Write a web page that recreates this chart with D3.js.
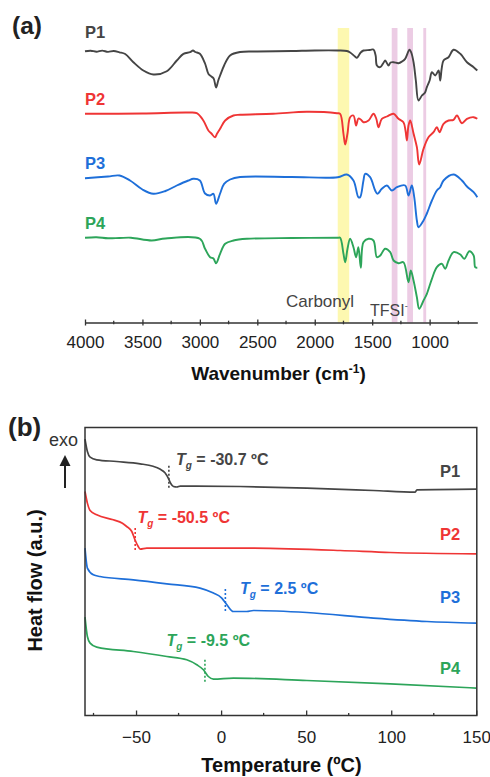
<!DOCTYPE html>
<html>
<head>
<meta charset="utf-8">
<script src="https://cdn.jsdelivr.net/npm/d3@7"></script>
<style>
  html, body { margin: 0; padding: 0; background: #fff; }
  svg { display: block; font-family: "Liberation Sans", Arial, sans-serif; }
</style>
</head>
<body>
<div id="chart"></div>
<script>
// ── Data ──────────────────────────────────────────────────────────────────
const SERIES = ['P1', 'P2', 'P3', 'P4'];
const COLORS = ['#454545', '#ef3535', '#1e6fd9', '#2da55a'];

// FTIR spectra (a): [wavenumber cm-1, transmittance a.u., stacked]
const ftirP1 = [
  [4000, 271.3], [3950, 271.8], [3900, 270.8], [3850, 271.9], [3800, 270.6], [3750, 271.5], [3700, 270.2],
  [3650, 268.5], [3579, 260.3], [3492, 252], [3405, 248], [3288, 251.3], [3201, 262], [3143, 268.7],
  [3085, 270.3], [3060, 272], [3040, 270.5], [3000, 268.7], [2955, 259], [2925, 248.5], [2900, 246],
  [2880, 244], [2859, 235], [2840, 242], [2824, 247], [2789, 257], [2737, 267], [2650, 270.5],
  [2500, 271], [2200, 271.5], [2000, 272], [1800, 272], [1720, 271.5], [1692, 270], [1650, 266],
  [1633, 264.7], [1600, 270], [1576, 272], [1520, 272.5], [1489, 273], [1470, 267], [1459, 257],
  [1430, 255.3], [1400, 260], [1387, 262], [1358, 257], [1340, 260], [1314, 260.3], [1271, 259.3],
  [1240, 261], [1213, 263.7], [1175, 272.7], [1160, 270], [1140, 260.3], [1120, 242], [1097, 222],
  [1067, 227], [1040, 230], [1024, 235.3], [1000, 242], [980, 250.3], [951, 247], [922, 252],
  [908, 242], [895, 254], [879, 262], [835, 265.3], [792, 272.7], [733, 268.7], [675, 260.3],
  [617, 255.3], [585, 252]
];
const ftirP2 = [
  [4000, 208.7], [3500, 209], [3100, 210], [3027, 209.3], [2970, 202], [2926, 192], [2900, 189],
  [2868, 185.3], [2850, 189], [2824, 193.7], [2780, 202], [2708, 207], [2650, 207.7], [2362, 208.7],
  [2069, 210.7], [1807, 209.3], [1779, 208.7], [1750, 188.7], [1735, 178], [1715, 189], [1692, 205.3],
  [1663, 207], [1640, 197], [1620, 204], [1600, 203], [1576, 200.3], [1532, 202], [1489, 208.7],
  [1465, 204], [1445, 195.3], [1416, 203.7], [1372, 206], [1314, 208.7], [1271, 203.7], [1228, 200.3],
  [1210, 192], [1198, 182], [1184, 197], [1169, 202], [1140, 189], [1111, 175.3], [1091, 158],
  [1053, 173.7], [1010, 185.3], [966, 190.3], [937, 195.3], [914, 190.3], [879, 198.7], [835, 202],
  [792, 202.7], [762, 207], [719, 199.3], [675, 203.7], [617, 205.3], [585, 203.7]
];
const ftirP3 = [
  [4000, 144.3], [3800, 146], [3700, 147], [3608, 142], [3500, 133], [3405, 128.7], [3300, 131.5],
  [3201, 137], [3100, 142], [3057, 143.7], [3000, 142], [2955, 129], [2911, 127], [2882, 128.7],
  [2859, 118.7], [2824, 129], [2789, 138.7], [2737, 143], [2650, 145.5], [2200, 145.5], [1800, 145.3],
  [1721, 148], [1663, 142], [1620, 125.3], [1605, 125.3], [1576, 142], [1561, 148.7], [1518, 145.3],
  [1474, 132], [1454, 128.7], [1416, 133.7], [1372, 137], [1329, 132], [1285, 135.3], [1213, 137],
  [1184, 127], [1155, 137], [1134, 125.3], [1111, 102], [1097, 95.3], [1053, 102], [1024, 109],
  [980, 122], [937, 132], [908, 135.3], [879, 142], [792, 148], [719, 142], [675, 136], [617, 130.3],
  [585, 125.3]
];
const ftirP4 = [
  [4000, 84.7], [3900, 85.3], [3800, 84.2], [3700, 84.5], [3600, 84.8], [3420, 82], [3300, 84],
  [3000, 83.7], [2955, 73.7], [2911, 65.3], [2882, 64], [2859, 59.3], [2824, 68.7], [2780, 78.7],
  [2708, 82], [2591, 83.7], [2200, 84.5], [1800, 84.7], [1779, 84.7], [1750, 68.7], [1735, 60.3],
  [1715, 73.7], [1692, 83.7], [1663, 75.3], [1640, 65.3], [1620, 75.3], [1599, 54.7], [1576, 80.3],
  [1532, 83.7], [1489, 82], [1459, 65.3], [1430, 67], [1387, 73.7], [1343, 70.3], [1314, 62],
  [1271, 59.3], [1228, 60.3], [1184, 40.3], [1164, 52], [1140, 42], [1111, 25.3], [1091, 13.7],
  [1053, 22], [1024, 28.7], [980, 43.7], [937, 55.3], [894, 58.7], [864, 53.7], [835, 62],
  [792, 70.3], [733, 68], [699, 63.7], [654, 71.3], [617, 67], [603, 55.3], [585, 54.7]
];
const ftirData = [ftirP1, ftirP2, ftirP3, ftirP4];

const carbonylBand = [1800, 1700];
const tfsiBands = [[1330, 1280], [1195, 1145], [1055, 1030]];
const ftirMajorTicks = [4000, 3500, 3000, 2500, 2000, 1500, 1000];
const ftirMinorTicks = [3750, 3250, 2750, 2250, 1750, 1250, 750];

// DSC curves (b): [temperature °C, heat flow a.u., stacked]
const dscP1 = [
  [-80, 276.4], [-78.6, 264], [-77, 258.4], [-73.1, 255.7], [-61.4, 254], [-47.6, 251.7], [-40, 249.2],
  [-36, 246.4], [-33, 242.7], [-31, 237.2], [-29.5, 231.7], [-28, 229], [-26, 228.5], [-24, 229.4],
  [-15, 229.4], [11.2, 229], [50.4, 227.4], [89.6, 225], [114.1, 223.4], [115.1, 225.7], [150, 226.4]
];
const dscP2 = [
  [-80, 224], [-78.6, 212.4], [-77, 205], [-73.1, 200.7], [-63.4, 195.7], [-58, 192.2], [-55.5, 189],
  [-52.5, 184], [-50.6, 175.7], [-48.8, 169.2], [-47.6, 166.4], [-43.7, 167.4], [11.2, 167.4],
  [70, 165], [99.4, 163], [150, 161.7]
];
const dscP3 = [
  [-80, 167.4], [-78.6, 147.4], [-75.1, 140.7], [-71.2, 139], [-51.6, 135.7], [-31.9, 131.7],
  [-12.4, 127.4], [-4.5, 122.4], [0.4, 117.4], [3.4, 110.7], [7.2, 104], [15.1, 104], [19, 105],
  [50.4, 103], [89.6, 97.4], [121, 94], [150, 92.4]
];
const dscP4 = [
  [-80, 98.4], [-78.6, 79], [-77, 72.4], [-73.1, 68.4], [-51.6, 64], [-31.9, 59], [-20.2, 55.7],
  [-14.3, 50.7], [-10.4, 45.7], [-7.5, 39], [-4.5, 36.4], [7.2, 37.4], [50.4, 35], [99.4, 31.7],
  [150, 27.4]
];
const dscData = [dscP1, dscP2, dscP3, dscP4];

const tgValues = [-30.7, -50.5, 2.5, -9.5];
const tgMarkerRange = [[249.7, 226.4], [187.4, 164], [126.4, 102.4], [55.7, 32.4]];
const dscMajorTicks = [-50, 0, 50, 100, 150];
const dscMinorTicks = [-75, -25, 25, 75, 125];

// ── Layout ────────────────────────────────────────────────────────────────
const W = 490, H = 777;
const FONT = '"Liberation Sans", Arial, sans-serif';

const svg = d3.select('#chart').append('svg')
  .attr('width', W).attr('height', H);

// ── Panel (a): FTIR ───────────────────────────────────────────────────────
const xA = d3.scaleLinear().domain([4000, 585]).range([85, 477.3]);
const yA = d3.scaleLinear().domain([0, 302]).range([322.5, 20.5]);
const bandTop = 28, bandBottom = 322.5;

const gA = svg.append('g');

gA.append('rect')
  .attr('x', xA(carbonylBand[0])).attr('y', bandTop)
  .attr('width', xA(carbonylBand[1]) - xA(carbonylBand[0]))
  .attr('height', bandBottom - bandTop)
  .attr('fill', '#fdf8b0');

gA.selectAll('rect.tfsi').data(tfsiBands).join('rect')
  .attr('class', 'tfsi')
  .attr('x', d => xA(d[0])).attr('y', bandTop)
  .attr('width', d => xA(d[1]) - xA(d[0]))
  .attr('height', bandBottom - bandTop)
  .attr('fill', '#eccce4');

const lineA = d3.line()
  .x(d => xA(d[0])).y(d => yA(d[1]))
  .curve(d3.curveCatmullRom.alpha(0.5));

ftirData.forEach((pts, i) => {
  gA.append('path')
    .attr('d', lineA(pts))
    .attr('fill', 'none')
    .attr('stroke', COLORS[i])
    .attr('stroke-width', 1.9)
    .attr('stroke-linejoin', 'round');
});

const ftirLabelY = [37.5, 104.5, 169, 229];
SERIES.forEach((s, i) => {
  gA.append('text')
    .attr('x', 85).attr('y', ftirLabelY[i])
    .attr('font-size', '16.5px').attr('font-weight', 'bold')
    .attr('fill', COLORS[i])
    .text(s);
});

// x axis with ticks crossing the line
const axA = gA.append('g')
  .attr('transform', `translate(0,${bandBottom})`)
  .call(d3.axisBottom(xA).tickValues(ftirMajorTicks).tickFormat(d3.format('d'))
    .tickSize(0).tickPadding(13));
axA.select('.domain').attr('stroke', '#333').attr('stroke-width', 1.4);
axA.selectAll('.tick text').attr('font-size', '17px').attr('fill', '#222').attr('font-family', FONT);
axA.selectAll('.tick').append('line')
  .attr('y1', -3).attr('y2', 3).attr('stroke', '#333').attr('stroke-width', 1.3);
gA.selectAll('line.minor').data(ftirMinorTicks).join('line')
  .attr('class', 'minor')
  .attr('x1', d => xA(d)).attr('x2', d => xA(d))
  .attr('y1', bandBottom - 1.8).attr('y2', bandBottom + 1.8)
  .attr('stroke', '#333').attr('stroke-width', 1.3);

gA.append('text')
  .attr('x', 286).attr('y', 306.5)
  .attr('font-size', '17px').attr('fill', '#444')
  .text('Carbonyl');
const tfsi = gA.append('text')
  .attr('x', 370).attr('y', 315.5)
  .attr('font-size', '16px').attr('fill', '#444');
tfsi.append('tspan').text('TFSI');
tfsi.append('tspan').attr('dy', -7).attr('font-size', '9px').text('-');

const xlabA = gA.append('text')
  .attr('x', 278.5).attr('y', 380)
  .attr('text-anchor', 'middle')
  .attr('font-size', '19px').attr('font-weight', 'bold').attr('fill', '#111');
xlabA.append('tspan').text('Wavenumber (cm');
xlabA.append('tspan').attr('dy', -7).attr('font-size', '12px').text('-1');
xlabA.append('tspan').attr('dy', 7).text(')');

svg.append('text')
  .attr('x', 12).attr('y', 33.5)
  .attr('font-size', '24.5px').attr('font-weight', 'bold').attr('fill', '#222')
  .text('(a)');

// ── Panel (b): DSC ────────────────────────────────────────────────────────
const xB = d3.scaleLinear().domain([-80, 150]).range([85, 476.3]);
const yB = d3.scaleLinear().domain([0, 288]).range([715.5, 427.5]);

const gB = svg.append('g');

const lineB = d3.line()
  .x(d => xB(d[0])).y(d => yB(d[1]))
  .curve(d3.curveMonotoneX);

dscData.forEach((pts, i) => {
  gB.append('path')
    .attr('d', lineB(pts))
    .attr('fill', 'none')
    .attr('stroke', COLORS[i])
    .attr('stroke-width', 1.7);
});

tgValues.forEach((tg, i) => {
  gB.append('line')
    .attr('x1', xB(tg)).attr('x2', xB(tg))
    .attr('y1', yB(tgMarkerRange[i][0])).attr('y2', yB(tgMarkerRange[i][1]))
    .attr('stroke', COLORS[i]).attr('stroke-width', 1.6)
    .attr('stroke-dasharray', '2,2');
});

const tgLabelPos = [[176, 465], [137.5, 522.5], [240, 594], [166.5, 646]];
tgValues.forEach((tg, i) => {
  const t = gB.append('text')
    .attr('x', tgLabelPos[i][0]).attr('y', tgLabelPos[i][1])
    .attr('font-size', '16px').attr('font-weight', 'bold')
    .attr('fill', COLORS[i]);
  t.append('tspan').attr('font-style', 'italic').text('T');
  t.append('tspan').attr('font-style', 'italic').attr('font-size', '10px').attr('dy', 4).text('g');
  t.append('tspan').attr('dy', -4).text(` = ${tg} ºC`);
});

const dscLabelY = [476.5, 539.5, 602.5, 673.5];
SERIES.forEach((s, i) => {
  gB.append('text')
    .attr('x', 440).attr('y', dscLabelY[i])
    .attr('font-size', '16.5px').attr('font-weight', 'bold')
    .attr('fill', COLORS[i])
    .text(s);
});

// frame
gB.append('rect')
  .attr('x', 85).attr('y', 427.5)
  .attr('width', 476.8 - 85).attr('height', 715.5 - 427.5)
  .attr('fill', 'none').attr('stroke', '#333').attr('stroke-width', 1.5);

const axB = gB.append('g')
  .attr('transform', 'translate(0,715.5)')
  .call(d3.axisBottom(xB).tickValues(dscMajorTicks).tickSize(0).tickPadding(15));
axB.select('.domain').remove();
axB.selectAll('.tick text').attr('font-size', '17px').attr('fill', '#222').attr('font-family', FONT);
axB.selectAll('.tick').append('line')
  .attr('y1', -5).attr('y2', 0).attr('stroke', '#333').attr('stroke-width', 1.3);
gB.selectAll('line.minor').data(dscMinorTicks).join('line')
  .attr('class', 'minor')
  .attr('x1', d => xB(d)).attr('x2', d => xB(d))
  .attr('y1', 715.5 - 2.6).attr('y2', 715.5)
  .attr('stroke', '#333').attr('stroke-width', 1.3);

gB.append('text')
  .attr('x', 281.5).attr('y', 772)
  .attr('text-anchor', 'middle')
  .attr('font-size', '20px').attr('font-weight', 'bold').attr('fill', '#111')
  .text('Temperature (ºC)');

gB.append('text')
  .attr('transform', 'translate(42,580.5) rotate(-90)')
  .attr('text-anchor', 'middle')
  .attr('font-size', '20px').attr('font-weight', 'bold').attr('fill', '#111')
  .text('Heat flow (a.u.)');

gB.append('text')
  .attr('x', 49).attr('y', 446)
  .attr('font-size', '18px').attr('fill', '#333')
  .text('exo');
gB.append('line')
  .attr('x1', 65).attr('x2', 65).attr('y1', 488).attr('y2', 464)
  .attr('stroke', '#222').attr('stroke-width', 2);
gB.append('path')
  .attr('d', 'M59.5,466L70.5,466L65,455Z')
  .attr('fill', '#222');

svg.append('text')
  .attr('x', 8).attr('y', 436)
  .attr('font-size', '26px').attr('font-weight', 'bold').attr('fill', '#222')
  .text('(b)');
</script>
</body>
</html>
